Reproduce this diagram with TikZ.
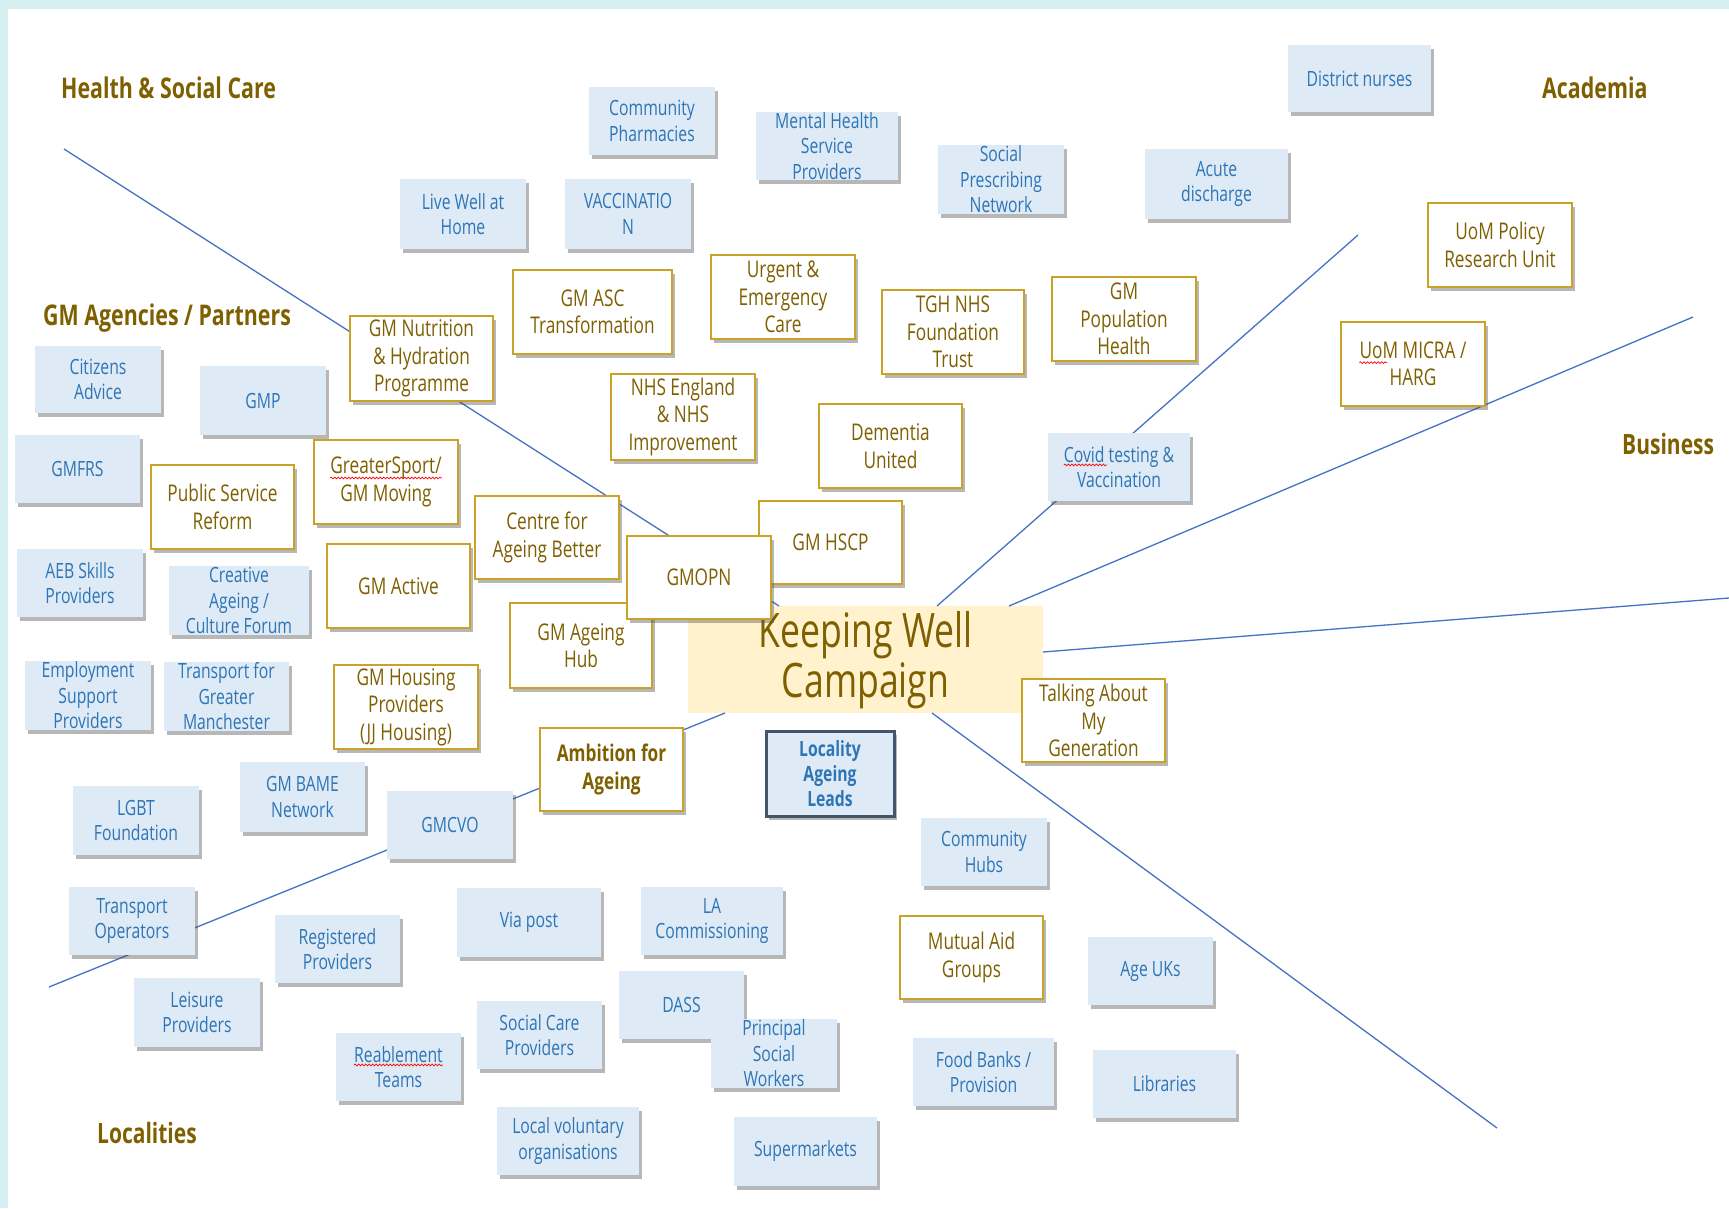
\documentclass[tikz,border=0pt]{standalone}
\usepackage{fontspec}
\setmainfont{Open Sans}[FakeStretch=0.75]
\usetikzlibrary{fit,shadows,decorations.pathmorphing}
\definecolor{bgcyan}{HTML}{D5EEF0}
\definecolor{bfill}{HTML}{DEEAF6}
\definecolor{btext}{HTML}{2E75B6}
\definecolor{gtext}{HTML}{7F6000}
\definecolor{gborder}{HTML}{C9A227}
\definecolor{cfill}{HTML}{FFF2CC}
\definecolor{lborder}{HTML}{44546A}
\definecolor{lcol}{HTML}{4472C4}
\tikzset{
  shd/.style={drop shadow={shadow xshift=3pt,shadow yshift=-4pt,opacity=.4,fill=black!70}},
  bbox/.style={fill=bfill,draw=none,inner sep=0pt,outer sep=0pt,shd},
  btxt/.style={text=btext,font=\fontsize{21}{25.5}\selectfont,align=center,inner sep=0pt},
  gbox/.style={fill=white,draw=gborder,line width=1.6pt,inner sep=0pt,outer sep=0pt,shd},
  gtxt/.style={text=gtext,font=\fontsize{23}{27.5}\selectfont,align=center,inner sep=0pt},
  abox/.style={gbox},
  atxt/.style={text=gtext,font=\fontsize{23}{27.5}\selectfont\bfseries,align=center,inner sep=0pt},
  lbox/.style={fill=bfill,draw=lborder,line width=3pt,inner sep=0pt,outer sep=0pt,shd},
  ltxt/.style={text=btext,font=\fontsize{21}{25}\selectfont\bfseries,align=center,inner sep=0pt},
  head/.style={text=gtext,font=\fontsize{28.5}{34}\selectfont\bfseries,inner sep=0pt,anchor=base west},
  conn/.style={draw=lcol,line width=1.3pt},
  wavy/.style={draw=red,line width=0.7pt,decorate,decoration={snake,amplitude=0.9pt,segment length=3.5pt}},
}
\newcommand\bx[7]{\node[#1box,fit={(#3,#4) (#5,#6)}] (#2) {};
  \node[#1txt] (#2t) at (#2.center) {#7};}
\begin{document}
\begin{tikzpicture}[x=1pt,y=-1pt]
\useasboundingbox (0,0) rectangle (1729,1208);
\fill[bgcyan] (0,0) rectangle (1729,1208);
\fill[white] (8,9) rectangle (1729,1208);
% headings
\node[head] (h1) at (61,98) {Health \& Social Care};
\node[head] (h2) at (1542,98) {Academia};
\node[head] (h3) at (43,325) {GM Agencies / Partners};
\node[head,font=\fontsize{28}{34}\selectfont\bfseries] (h4) at (1622,454) {Business};
\node[head,font=\fontsize{28}{34}\selectfont\bfseries] (h5) at (97,1143) {Localities};
% centre
\node[fill=cfill,inner sep=0pt,outer sep=0pt,fit={(688,606) (1043,713)}] (kw) {};
% connectors (from the edge of the centre box)
\coordinate (s1) at (779,606);  \coordinate (e1) at (64,149);
\coordinate (s2) at (725,713);  \coordinate (e2) at (49,987);
\coordinate (s3) at (932,713);  \coordinate (e3) at (1497,1128);
\coordinate (s4) at (1043,652); \coordinate (e4) at (1729,598);
\coordinate (s5) at (1009,606); \coordinate (e5) at (1693,317);
\coordinate (s6) at (937,606);  \coordinate (e6) at (1358,235);
\foreach \i in {1,...,6} \draw[conn] (s\i) -- (e\i);
\node[text=gtext,font=\fontsize{47.5}{50}\selectfont,align=center,inner sep=0pt] (kwt) at (865.5,660) {Keeping Well\\Campaign};
% blue boxes
\bx{b}{cph}{589}{87}{715}{155}{Community\\Pharmacies}
\bx{b}{mhs}{756}{112}{898}{180}{Mental Health\\Service\\Providers}
\bx{b}{spn}{938}{145}{1064}{214}{Social\\Prescribing\\Network}
\bx{b}{dnu}{1288}{45}{1431}{112}{District nurses}
\bx{b}{acd}{1145}{149}{1288}{219}{Acute\\discharge}
\bx{b}{lwh}{400}{179}{526}{249}{Live Well at\\Home}
\bx{b}{vac}{565}{179}{691}{249}{VACCINATIO\\N}
\bx{b}{cad}{35}{346}{161}{413}{Citizens\\Advice}
\bx{b}{gmp}{200}{366}{326}{435}{GMP}
\bx{b}{gmf}{15}{435}{140}{503}{GMFRS}
\bx{b}{aeb}{17}{549}{143}{617}{AEB Skills\\Providers}
\bx{b}{cre}{169}{566}{309}{635}{Creative\\Ageing /\\Culture Forum}
\bx{b}{emp}{25}{661}{151}{730}{Employment\\Support\\Providers}
\bx{b}{tgm}{164}{662}{289}{731}{Transport for\\Greater\\Manchester}
\bx{b}{lgb}{73}{786}{199}{855}{LGBT\\Foundation}
\bx{b}{bam}{240}{762}{365}{832}{GM BAME\\Network}
\bx{b}{cvo}{387}{791}{513}{859}{GMCVO}
\bx{b}{tro}{69}{887}{195}{955}{Transport\\Operators}
\bx{b}{rpr}{275}{915}{400}{983}{Registered\\Providers}
\bx{b}{vpo}{457}{888}{601}{957}{Via post}
\bx{b}{lac}{641}{887}{783}{955}{LA\\Commissioning}
\bx{b}{lei}{134}{978}{260}{1047}{Leisure\\Providers}
\bx{b}{scp}{477}{1001}{602}{1069}{Social Care\\Providers}
\bx{b}{das}{619}{971}{744}{1039}{DASS}
\bx{b}{psw}{711}{1019}{837}{1088}{Principal\\Social\\Workers}
\bx{b}{rea}{336}{1033}{461}{1101}{Reablement\\Teams}
\bx{b}{lvo}{497}{1107}{639}{1175}{Local voluntary\\organisations}
\bx{b}{sup}{734}{1117}{877}{1186}{Supermarkets}
\bx{b}{cov}{1048}{433}{1190}{501}{Covid testing \&\\Vaccination}
\bx{b}{chu}{921}{818}{1047}{886}{Community\\Hubs}
\bx{b}{auk}{1088}{937}{1213}{1005}{Age UKs}
\bx{b}{fbk}{913}{1038}{1054}{1106}{Food Banks /\\Provision}
\bx{b}{lib}{1093}{1050}{1236}{1118}{Libraries}
% gold boxes
\bx{g}{nut}{350}{316}{493}{401}{GM Nutrition\\\& Hydration\\Programme}
\bx{g}{asc}{513}{270}{672}{354}{GM ASC\\Transformation}
\bx{g}{uec}{711}{255}{855}{339}{Urgent \&\\Emergency\\Care}
\bx{g}{tgh}{882}{290}{1024}{374}{TGH NHS\\Foundation\\Trust}
\bx{g}{gph}{1052}{277}{1196}{361}{GM\\Population\\Health}
\bx{g}{upr}{1428}{203}{1572}{287}{UoM Policy\\Research Unit}
\bx{g}{umi}{1341}{322}{1485}{406}{UoM MICRA /\\HARG}
\bx{g}{nhs}{611}{374}{755}{460}{NHS England\\\& NHS\\Improvement}
\bx{g}{dem}{819}{404}{962}{488}{Dementia\\United}
\bx{g}{gsp}{314}{440}{458}{524}{GreaterSport/\\GM Moving}
\bx{g}{psr}{151}{465}{294}{549}{Public Service\\Reform}
\bx{g}{cab}{475}{496}{619}{579}{Centre for\\Ageing Better}
\bx{g}{hsc}{759}{501}{902}{584}{GM HSCP}
\bx{g}{gma}{327}{544}{470}{628}{GM Active}
\bx{g}{gah}{510}{603}{652}{688}{GM Ageing\\Hub}
\bx{g}{ghp}{334}{665}{478}{749}{GM Housing\\Providers\\(JJ Housing)}
\bx{a}{afa}{540}{728}{683}{811}{Ambition for\\Ageing}
\bx{g}{tam}{1022}{679}{1165}{762}{Talking About\\My\\Generation}
\bx{g}{mag}{900}{916}{1043}{999}{Mutual Aid\\Groups}
\bx{g}{opn}{627}{536}{771}{619}{GMOPN}
\bx{l}{lal}{766}{731}{894}{816}{Locality\\Ageing\\Leads}
% spell-check marks
\draw[wavy] ([yshift=-19pt]reat.north west) -- ([yshift=-19pt]reat.north east);
\draw[wavy] ([yshift=-19pt]covt.north west) -- ++(43,0);
\draw[wavy] ([yshift=-21pt]gspt.north west) -- ([yshift=-21pt]gspt.north east);
\draw[wavy] ([yshift=-21pt]umit.north west) -- ++(28,0);
\end{tikzpicture}
\end{document}
